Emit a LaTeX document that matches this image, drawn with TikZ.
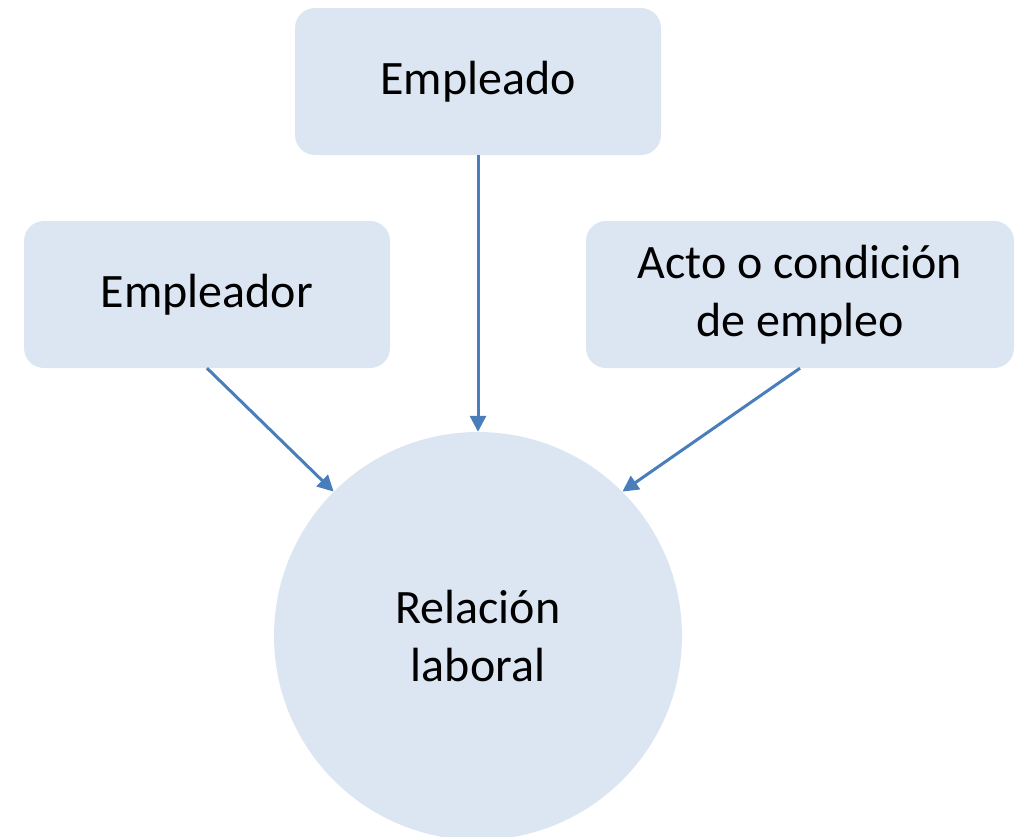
\documentclass[tikz,border=0pt]{standalone}
\usepackage{fontspec}
\setmainfont{Carlito}
\usetikzlibrary{arrows.meta}
\definecolor{boxfill}{HTML}{DCE6F2}
\definecolor{arrowblue}{HTML}{4A7EBB}
\begin{document}
\begin{tikzpicture}
  [x=1pt,y=-1pt,
   every node/.style={fill=boxfill,inner sep=0pt,align=center,font=\fontsize{48}{58}\selectfont},
   box/.style={rounded corners=20pt,minimum height=147pt},
   every edge/.style={draw,arrowblue,line width=3pt,-{Triangle[length=16pt,width=16pt]}}]
  \useasboundingbox (0,0) rectangle (1023,836);
  \node[box,minimum width=366pt] (empleado) at (478,81.5) {Empleado};
  \node[box,minimum width=366pt] (empleador) at (207,294.5) {Empleador};
  \node[box,minimum width=428pt] (acto) at (800,294.5) {Acto o condición\\de empleo};
  \node[circle,minimum size=408pt] (relacion) at (478,636) {Relación\\laboral};
 \path
        (empleado) edge (relacion)
        (empleador.south) edge (relacion.135)
        (acto.south) edge (relacion.45);

\end{tikzpicture}
\end{document}
